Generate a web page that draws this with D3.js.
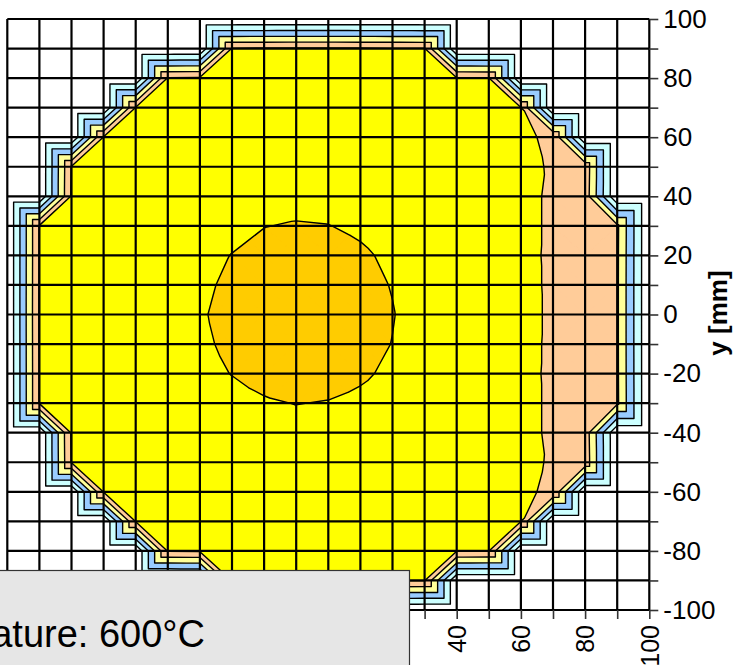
<!DOCTYPE html>
<html><head><meta charset="utf-8">
<script src="https://cdn.jsdelivr.net/npm/d3@7"></script>
<style>body{margin:0;background:#fff}svg{display:block}</style>
</head><body>
<svg id="chart" width="734" height="665"></svg>
<script>
// ---- data ----
const xValues = [-100,-90,-80,-70,-60,-50,-40,-30,-20,-10,0,10,20,30,40,50,60,70,80,90,100];
const yValues = [100,90,80,70,60,50,40,30,20,10,0,-10,-20,-30,-40,-50,-60,-70,-80,-90,-100];
const levels = [100,200,300,400,500,600];
const bandColors = ['#FFFFFF','#CCFFFF','#99CCFF','#FFFF99','#FFCC99','#FFFF00','#FFCC00'];
const xTickLabels = [-100,-80,-60,-40,-20,0,20,40,60,80,100];
const yTickLabels = [100,80,60,40,20,0,-20,-40,-60,-80,-100];
const yAxisTitle = 'y [mm]';
const legendText = 'Temperature: 600°C';
// temperature at grid nodes, rows from y=100 (top) to y=-100 (bottom), columns x=-100..100
const temperature = [
 [0,0,0,0,0,0,0,0,0,0,0,0,0,0,0,0,0,0,0,0,0],
 [0,0,0,0,0,0,0,507,510,511,511,510,508,505,0,0,0,0,0,0,0],
 [0,0,0,0,0,508,513,521,524,525,524,521,517,512,507,503,0,0,0,0,0],
 [0,0,0,0,506,519,531,538,541,542,540,536,529,521,513,507,501,0,0,0,0],
 [0,0,0,507,525,538,547,553,557,558,556,551,543,534,525,516,508,492,0,0,0],
 [0,0,508,528,542,553,561,567,571,572,569,562,552,541,530,520,510,496,465,0,0],
 [0,0,512,536,552,563,571,578,583,585,580,572,561,548,535,523,511,494,458,0,0],
 [0,508,527,546,561,570,577,588,599,603,601,592,578,562,546,529,511,494,460,418,0],
 [0,508,530,550,566,578,588,601,612,619,617,607,591,571,551,530,510,494,461,416,0],
 [0,509,533,554,571,584,594,606,618,626,624,614,598,576,554,532,511,494,461,415,0],
 [0,510,535,556,573,586,597,609,622,630,628,618,602,578,556,534,512,494,462,415,0],
 [0,509,533,554,571,584,594,607,619,627,625,615,599,576,554,532,511,494,461,415,0],
 [0,508,530,550,566,578,589,601,612,619,617,607,591,571,551,530,510,494,461,416,0],
 [0,508,527,546,561,570,578,587,596,601,598,590,577,561,545,528,511,494,460,418,0],
 [0,0,512,536,552,563,571,578,582,584,580,572,561,548,535,523,511,494,458,0,0],
 [0,0,508,528,542,553,561,567,571,572,569,562,552,541,530,520,510,496,465,0,0],
 [0,0,0,507,525,538,547,553,557,558,556,551,543,534,525,516,508,492,0,0,0],
 [0,0,0,0,506,519,531,538,541,542,540,536,529,521,513,507,501,0,0,0,0],
 [0,0,0,0,0,508,513,521,524,525,524,521,517,512,507,503,0,0,0,0,0],
 [0,0,0,0,0,0,0,507,510,511,511,510,508,505,0,0,0,0,0,0,0],
 [0,0,0,0,0,0,0,0,0,0,0,0,0,0,0,0,0,0,0,0,0]
];

// ---- scales ----
const svg = d3.select('#chart');
const x = d3.scaleLinear().domain([-100,100]).range([7.3,649.3]);
const y = d3.scaleLinear().domain([-100,100]).range([610,19]);
const FONT = '"Liberation Sans", Arial, sans-serif';

// ---- triangulate cells ----
const tris = [];
for (let r = 0; r < yValues.length - 1; r++) {
  for (let c = 0; c < xValues.length - 1; c++) {
    const TL = {x:xValues[c],   y:yValues[r],   v:temperature[r][c]};
    const TR = {x:xValues[c+1], y:yValues[r],   v:temperature[r][c+1]};
    const BL = {x:xValues[c],   y:yValues[r+1], v:temperature[r+1][c]};
    const BR = {x:xValues[c+1], y:yValues[r+1], v:temperature[r+1][c+1]};
    if (TL.v + BR.v >= TR.v + BL.v) { tris.push([TL,TR,BR],[TL,BR,BL]); }
    else { tris.push([TL,TR,BL],[TR,BR,BL]); }
  }
}
function clip(poly, fn) {
  const out = [];
  for (let i = 0; i < poly.length; i++) {
    const a = poly[i], b = poly[(i+1) % poly.length];
    const fa = fn(a), fb = fn(b);
    if (fa >= 0) out.push(a);
    if ((fa >= 0) !== (fb >= 0)) {
      const t = fa / (fa - fb);
      out.push({x:a.x + t*(b.x-a.x), y:a.y + t*(b.y-a.y), v:a.v + t*(b.v-a.v)});
    }
  }
  return out;
}
const bounds = [-Infinity, ...levels, Infinity];
const bandPaths = bandColors.map(() => d3.path());
tris.forEach(tri => {
  for (let k = 0; k < bandColors.length; k++) {
    const lo = bounds[k], hi = bounds[k+1];
    let p = tri;
    if (isFinite(lo)) p = clip(p, q => q.v - lo);
    if (p.length >= 3 && isFinite(hi)) p = clip(p, q => hi - q.v);
    if (p.length < 3) continue;
    const path = bandPaths[k];
    p.forEach((q, i) => i ? path.lineTo(x(q.x), y(q.y)) : path.moveTo(x(q.x), y(q.y)));
    path.closePath();
  }
});
const gBands = svg.append('g');
bandColors.forEach((col, k) => {
  gBands.append('path').attr('d', bandPaths[k].toString())
    .attr('fill', col).attr('stroke', col).attr('stroke-width', 0.7).attr('stroke-linejoin','round');
});

// ---- iso lines ----
const iso = d3.path();
tris.forEach(tri => {
  levels.forEach(L => {
    const pts = [];
    for (let i = 0; i < 3; i++) {
      const a = tri[i], b = tri[(i+1)%3];
      if ((a.v - L) * (b.v - L) < 0) {
        const t = (L - a.v) / (b.v - a.v);
        pts.push([a.x + t*(b.x-a.x), a.y + t*(b.y-a.y)]);
      }
    }
    if (pts.length === 2) {
      iso.moveTo(x(pts[0][0]), y(pts[0][1]));
      iso.lineTo(x(pts[1][0]), y(pts[1][1]));
    }
  });
});
svg.append('path').attr('d', iso.toString()).attr('fill','none')
  .attr('stroke','#000').attr('stroke-width',1.4).attr('stroke-linecap','round');

// ---- grid ----
const gGrid = svg.append('g').attr('stroke','#000').attr('stroke-width',2.2);
xValues.forEach(v => gGrid.append('line').attr('x1',x(v)).attr('x2',x(v)).attr('y1',y(-100)).attr('y2',y(100)));
yValues.forEach(v => gGrid.append('line').attr('y1',y(v)).attr('y2',y(v)).attr('x1',x(-100)).attr('x2',x(100)));

// ---- axes ----
const yAxis = d3.axisRight(y).tickValues(yValues).tickSize(9).tickPadding(5)
  .tickFormat(d => yTickLabels.includes(d) ? String(d) : '');
const gy = svg.append('g').attr('transform', `translate(${x(100)},0)`).call(yAxis);
gy.select('.domain').remove();
gy.selectAll('line').attr('stroke','#333').attr('stroke-width',1.6);
gy.selectAll('text').attr('font-family',FONT).attr('font-size',26).attr('fill','#000');

const xAxis = d3.axisBottom(x).tickValues(xValues).tickSize(9)
  .tickFormat(d => xTickLabels.includes(d) ? String(d) : '');
const gx = svg.append('g').attr('transform', `translate(0,${y(-100)})`).call(xAxis);
gx.select('.domain').remove();
gx.selectAll('line').attr('stroke','#333').attr('stroke-width',1.6);
gx.selectAll('text').attr('font-family',FONT).attr('font-size',25).attr('fill','#000')
  .attr('transform','rotate(-90)').attr('x',-15).attr('y',0).attr('dy','0.35em')
  .attr('text-anchor','end');

svg.append('text').attr('transform','translate(727,313) rotate(-90)')
  .attr('text-anchor','middle').attr('font-family',FONT).attr('font-weight','bold')
  .attr('font-size',26).attr('fill','#000').text(yAxisTitle);

// ---- legend box ----
svg.append('rect').attr('x',-5).attr('y',570.5).attr('width',414.5).attr('height',110)
  .attr('fill','#E6E6E6').attr('stroke','#333').attr('stroke-width',1.2);
svg.append('text').attr('x',205).attr('y',647).attr('text-anchor','end')
  .attr('font-family',FONT).attr('font-size',38).attr('fill','#000').text(legendText);
</script>
</body></html>
